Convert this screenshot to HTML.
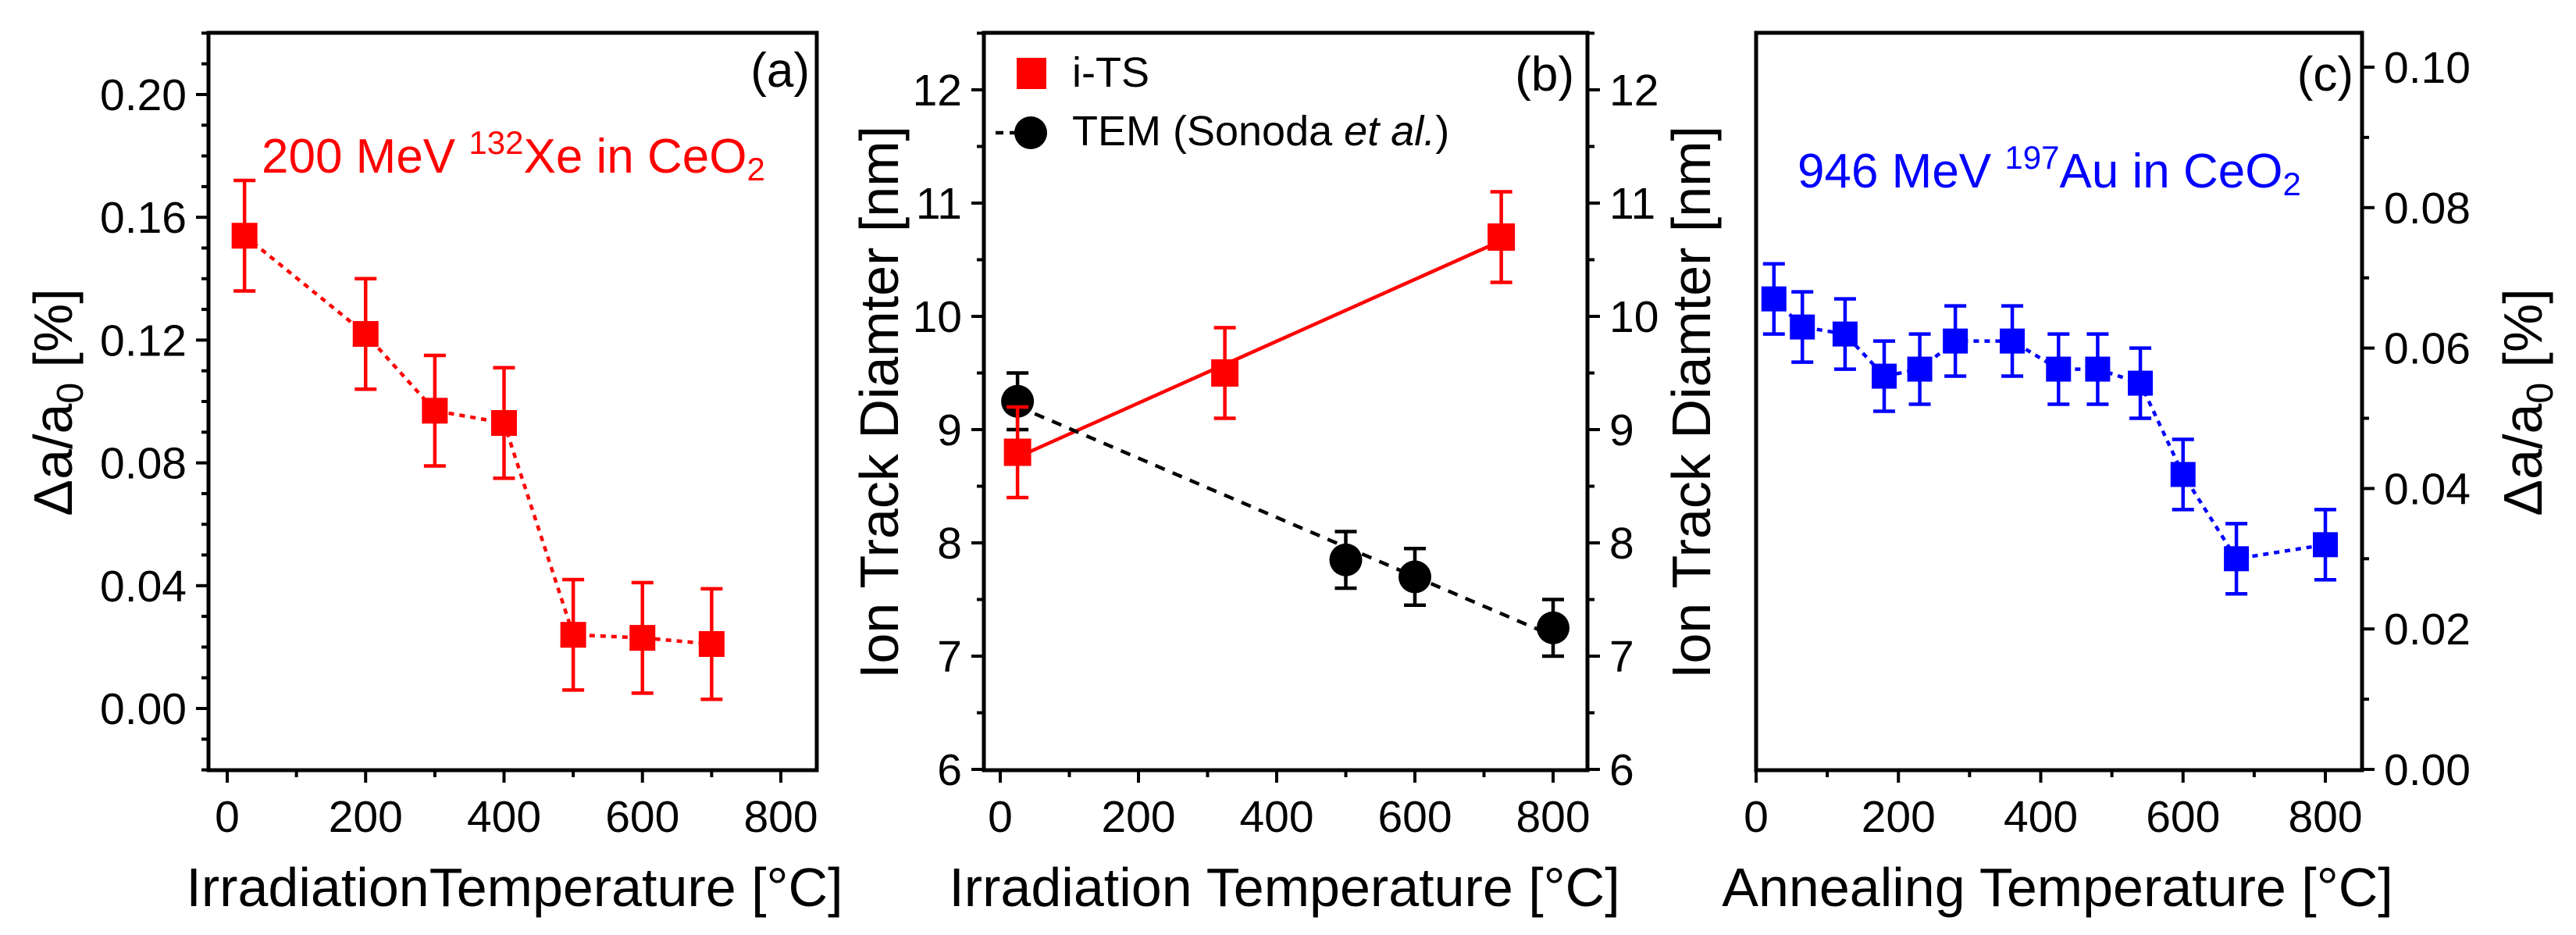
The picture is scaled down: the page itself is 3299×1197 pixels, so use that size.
<!DOCTYPE html>
<html><head><meta charset="utf-8"><style>
html,body{margin:0;padding:0;background:#fff;}
svg{display:block;font-family:"Liberation Sans",sans-serif;}
</style></head><body>
<svg id="fig" width="3299" height="1197" viewBox="0 0 3299 1197" xmlns="http://www.w3.org/2000/svg"></svg>
<script>
// Panel (a) data
const aX = [25, 200, 300, 400, 500, 600, 700];
const aY = [0.154, 0.122, 0.097, 0.093, 0.024, 0.023, 0.021];
const aErr = [0.018, 0.018, 0.018, 0.018, 0.018, 0.018, 0.018];
const aXTicks = [0, 200, 400, 600, 800];
const aYTicks = [0.00, 0.04, 0.08, 0.12, 0.16, 0.20];
// Panel (b) data
const bRedX = [25, 325, 725];
const bRedY = [8.8, 9.5, 10.7];
const bRedErr = [0.4, 0.4, 0.4];
const bBlkX = [25, 500, 600, 800];
const bBlkY = [9.25, 7.85, 7.7, 7.25];
const bBlkErr = [0.25, 0.25, 0.25, 0.25];
const bXTicks = [0, 200, 400, 600, 800];
const bYTicks = [6, 7, 8, 9, 10, 11, 12];
// Panel (c) data
const cX = [25, 65, 125, 180, 230, 280, 360, 425, 480, 540, 600, 675, 800];
const cY = [0.067, 0.063, 0.062, 0.056, 0.057, 0.061, 0.061, 0.057, 0.057, 0.055, 0.042, 0.030, 0.032];
const cErr = [0.005, 0.005, 0.005, 0.005, 0.005, 0.005, 0.005, 0.005, 0.005, 0.005, 0.005, 0.005, 0.005];
const cXTicks = [0, 200, 400, 600, 800];
const cYTicks = [0.00, 0.02, 0.04, 0.06, 0.08, 0.10];

const T = 42, B = 986;
const svg = document.getElementById('fig');
const NS = 'http://www.w3.org/2000/svg';
function el(tag, attrs, parent) {
  const e = document.createElementNS(NS, tag);
  for (const k in attrs) e.setAttribute(k, attrs[k]);
  (parent || svg).appendChild(e);
  return e;
}
function lin(d0, d1, p0, p1) { return v => p0 + (v - d0) * (p1 - p0) / (d1 - d0); }
function fit(xs, ys) {
  const n = xs.length; let sx=0, sy=0, sxx=0, sxy=0;
  for (let i=0;i<n;i++){sx+=xs[i];sy+=ys[i];sxx+=xs[i]*xs[i];sxy+=xs[i]*ys[i];}
  const m=(n*sxy-sx*sy)/(n*sxx-sx*sx); return [m,(sy-m*sx)/n];
}
function frame(L, R) {
  const f = el('rect', {x:L, y:T, width:R-L, height:B-T, fill:'none', stroke:'#000', 'stroke-width':5});
  
  
}
function xAxis(sx, ticks, minorStep, fmt, name) {
  const g = el('g', {});
  
  
  for (let v = ticks[0]; v <= ticks[ticks.length-1] + 1e-9; v += minorStep) {
    const major = ticks.some(t => Math.abs(t - v) < 1e-9);
    el('line', {x1:sx(v), x2:sx(v), y1:B, y2:B + (major?16:9), stroke:'#000', 'stroke-width':4}, g);
  }
  ticks.forEach(v => {
    const t = el('text', {x:sx(v), y:1065, 'font-size':57, 'text-anchor':'middle', fill:'#000'}, g);
    t.textContent = fmt(v);
  });
}
function yAxis(sy, ticks, minorStep, X, side, fmt, name) {
  const g = el('g', {});
  
  
  const dir = side === 'left' ? -1 : 1;
  const lo = ticks[0] - minorStep * 4, hi = ticks[ticks.length-1] + minorStep * 4;
  for (let v = lo; v <= hi + 1e-9; v += minorStep) {
    const y = sy(v);
    if (y < T - 1 || y > B + 1) continue;
    const major = ticks.some(t => Math.abs(t - v) < 1e-9);
    el('line', {x1:X, x2:X + dir*(major?16:9), y1:y, y2:y, stroke:'#000', 'stroke-width':4}, g);
  }
  ticks.forEach(v => {
    const t = el('text', {x:X + dir*28, y:sy(v) + 20, 'font-size':57, 'text-anchor':side==='left'?'end':'start', fill:'#000'}, g);
    t.textContent = fmt(v);
  });
}
function errBars(xs, ys, es, sx, sy, color, name) {
  const g = el('g', {});
  
  
  xs.forEach((x, i) => {
    const X = sx(x), y1 = sy(ys[i] + es[i]), y2 = sy(ys[i] - es[i]);
    el('line', {x1:X, x2:X, y1:y1, y2:y2, stroke:color, 'stroke-width':4.5}, g);
    el('line', {x1:X-14, x2:X+14, y1:y1, y2:y1, stroke:color, 'stroke-width':4.5}, g);
    el('line', {x1:X-14, x2:X+14, y1:y2, y2:y2, stroke:color, 'stroke-width':4.5}, g);
  });
}
function squares(xs, ys, sx, sy, color, size, name) {
  const g = el('g', {});
  
  
  xs.forEach((x, i) => {
    el('rect', {x:sx(x)-size/2, y:sy(ys[i])-size/2, width:size, height:size, fill:color}, g);
  });
}
function polyline(xs, ys, sx, sy, color, dash, name) {
  const p = el('polyline', {points: xs.map((x,i)=>sx(x)+','+sy(ys[i])).join(' '), fill:'none', stroke:color, 'stroke-width':4.5, 'stroke-dasharray':dash});
  
  
}
function text(x, y, size, color, content, name, anchor, rot) {
  const t = el('text', {x:x, y:y, 'font-size':size, fill:color, 'text-anchor':anchor||'start'});
  if (rot) t.setAttribute('transform', 'rotate(-90 '+x+' '+y+')');
  t.innerHTML = content;
  
  
  return t;
}

// ---------- Panel (a)
{
  const L=267,R=1046;
  const sx = lin(0, 800, 291, 1000), sy = lin(0, 0.20, 907, 121);
  frame(L,R);
  xAxis(sx, aXTicks, 100, v=>String(v), 'a-x-axis');
  yAxis(sy, aYTicks, 0.01, L, 'left', v=>v.toFixed(2), 'a-y-axis');
  polyline(aX, aY, sx, sy, '#ff0000', '7 7', 'a-series-line');
  errBars(aX, aY, aErr, sx, sy, '#ff0000', 'a-error-bars');
  squares(aX, aY, sx, sy, '#ff0000', 33, 'a-series-markers');
  text(659, 1160, 70, '#000', 'IrradiationTemperature [°C]', 'a-x-axis-title', 'middle');
  text(92, 515, 70, '#000', 'Δa/a<tspan font-size="48" dy="14">0</tspan><tspan dy="-14"> [%]</tspan>', 'a-y-axis-title', 'middle', true);
  text(1037, 111, 62, '#000', '(a)', 'a-panel-label', 'end');
  text(335, 221, 62, '#ff0000', '200 MeV <tspan font-size="42" dy="-24">132</tspan><tspan dy="24">Xe in CeO</tspan><tspan font-size="42" dy="10">2</tspan>', 'a-annotation');
}
// ---------- Panel (b)
{
  const L=1260,R=2033;
  const sx = lin(0, 800, 1281, 1989), sy = lin(6, 12, 985, 115);
  frame(L,R);
  xAxis(sx, bXTicks, 100, v=>String(v), 'b-x-axis');
  yAxis(sy, bYTicks, 0.5, L, 'left', v=>String(v), 'b-y-axis-left');
  yAxis(sy, bYTicks, 0.5, R, 'right', v=>String(v), 'b-y-axis-right');
  const [mr, cr] = fit(bRedX, bRedY);
  const fr = el('line', {x1:sx(25), y1:sy(mr*25+cr), x2:sx(725), y2:sy(mr*725+cr), stroke:'#ff0000', 'stroke-width':4.5});
  
  
  const [mb, cb] = fit(bBlkX, bBlkY);
  const fb = el('line', {x1:sx(25), y1:sy(mb*25+cb), x2:sx(800), y2:sy(mb*800+cb), stroke:'#000', 'stroke-width':4.5, 'stroke-dasharray':'13 11'});
  
  
  errBars(bBlkX, bBlkY, bBlkErr, sx, sy, '#000', 'b-tem-error-bars');
  const gc = el('g', {});
  
  
  bBlkX.forEach((x,i)=>el('circle', {cx:sx(x), cy:sy(bBlkY[i]), r:21, fill:'#000'}, gc));
  errBars(bRedX, bRedY, bRedErr, sx, sy, '#ff0000', 'b-its-error-bars');
  squares(bRedX, bRedY, sx, sy, '#ff0000', 35, 'b-its-markers');
  const lg = el('g', {});
  
  
  el('rect', {x:1302, y:74, width:38, height:40, fill:'#ff0000'}, lg);
  el('line', {x1:1275, x2:1345, y1:170, y2:170, stroke:'#000', 'stroke-width':4.5, 'stroke-dasharray':'10 8'}, lg);
  el('circle', {cx:1320, cy:170, r:21, fill:'#000'}, lg);
  text(1373, 111, 54, '#000', 'i-TS', 'b-legend-its');
  text(1373, 186, 54, '#000', 'TEM (Sonoda <tspan font-style="italic">et al.</tspan>)', 'b-legend-tem');
  text(2016, 116, 62, '#000', '(b)', 'b-panel-label', 'end');
  text(1645, 1160, 70, '#000', 'Irradiation Temperature [°C]', 'b-x-axis-title', 'middle');
  text(1150, 515, 70, '#000', 'Ion Track Diamter [nm]', 'b-y-axis-title-left', 'middle', true);
  text(2190, 515, 70, '#000', 'Ion Track Diamter [nm]', 'b-y-axis-title-right', 'middle', true);
}
// ---------- Panel (c)
{
  const L=2249,R=3025;
  const sx = lin(0, 800, 2249, 2978), sy = lin(0, 0.10, 985, 86);
  frame(L,R);
  xAxis(sx, cXTicks, 100, v=>String(v), 'c-x-axis');
  yAxis(sy, cYTicks, 0.01, R, 'right', v=>v.toFixed(2), 'c-y-axis');
  polyline(cX, cY, sx, sy, '#0000ff', '7 7', 'c-series-line');
  errBars(cX, cY, cErr, sx, sy, '#0000ff', 'c-error-bars');
  squares(cX, cY, sx, sy, '#0000ff', 32, 'c-series-markers');
  text(2635, 1160, 70, '#000', 'Annealing Temperature [°C]', 'c-x-axis-title', 'middle');
  text(3255, 515, 70, '#000', 'Δa/a<tspan font-size="48" dy="14">0</tspan><tspan dy="-14"> [%]</tspan>', 'c-y-axis-title', 'middle', true);
  text(3014, 116, 62, '#000', '(c)', 'c-panel-label', 'end');
  text(2302, 240, 62, '#0000ff', '946 MeV <tspan font-size="42" dy="-24">197</tspan><tspan dy="24">Au in CeO</tspan><tspan font-size="42" dy="10">2</tspan>', 'c-annotation');
}
</script>
</body></html>
